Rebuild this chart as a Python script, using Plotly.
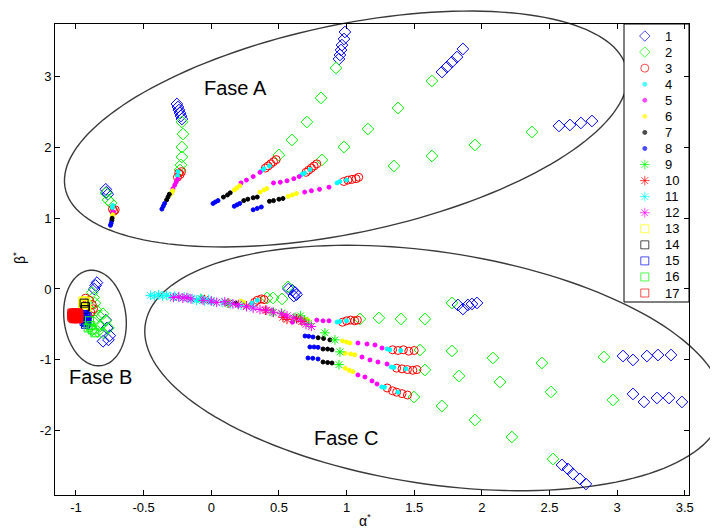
import numpy as np
import plotly.graph_objects as go

# ---------------- data ----------------
x_ticks = [-1, -0.5, 0, 0.5, 1, 1.5, 2, 2.5, 3, 3.5]
x_tick_labels = ["-1", "-0.5", "0", "0.5", "1", "1.5", "2", "2.5", "3", "3.5"]
y_ticks = [-2, -1, 0, 1, 2, 3]
y_tick_labels = ["-2", "-1", "0", "1", "2", "3"]
series_names = [str(i) for i in range(1, 18)]

# 1: blue diamonds
x1 = [-0.78, -0.775, -0.765,
      -0.254, -0.246, -0.239, -0.231, -0.224, -0.217,
      0.944, 0.951, 0.959, 0.966, 0.981, 0.988,
      1.705, 1.742, 1.779, 1.816, 1.860,
      2.570, 2.651, 2.732, 2.814,
      -0.845, -0.855, -0.865, -0.78, -0.77, -0.75, -0.80, -0.76,
      0.57, 0.60, 0.62, 0.63, 0.61,
      1.823, 1.86, 1.897, 1.927, 1.964,
      3.043, 3.117, 3.220, 3.302, 3.398,
      3.117, 3.198, 3.294, 3.383, 3.479,
      2.592, 2.636, 2.673, 2.725, 2.769]
y1 = [1.41, 1.37, 1.34,
      2.617, 2.574, 2.531, 2.489, 2.447, 2.404,
      3.253, 3.31, 3.38, 3.45, 3.536, 3.635,
      3.069, 3.140, 3.211, 3.281, 3.395,
      2.306, 2.320, 2.348, 2.376,
      0.09, 0.05, 0.0, -0.44, -0.55, -0.66, -0.74, -0.72,
      0.0, -0.02, -0.05, -0.08, -0.10,
      -0.226, -0.283, -0.226, -0.212, -0.198,
      -0.948, -1.004, -0.948, -0.934, -0.934,
      -1.485, -1.598, -1.542, -1.542, -1.598,
      -2.489, -2.546, -2.617, -2.687, -2.758]

# 2: green diamonds
x2 = [-0.778, -0.763, -0.741,
      -0.217, -0.209, -0.217, -0.217, -0.224, -0.231,
      0.922, 0.811, 0.707, 0.596, 0.500,
      0.818, 0.981, 1.158, 1.380, 1.631,
      1.350, 1.631, 1.949, 2.370,
      -0.88, -0.87, -0.86, -0.85, -0.83, -0.80, -0.78, -0.86, -0.82, -0.84, -0.80, -0.88, -0.90, -0.76,
      0.412, 0.456, 0.523, 0.567,
      1.099, 1.239, 1.402, 1.579, 1.779,
      1.542, 1.779, 2.082, 2.444, 2.902,
      1.579, 1.831, 2.134, 2.511, 2.969,
      1.498, 1.705, 1.949, 2.222, 2.526]
y2 = [1.358, 1.259, 1.216,
      2.362, 2.192, 2.008, 1.867, 1.754, 1.683,
      3.126, 2.702, 2.362, 2.108, 1.895,
      1.825, 2.008, 2.263, 2.560, 2.942,
      1.740, 1.881, 2.037, 2.221,
      -0.05, -0.12, -0.20, -0.30, -0.38, -0.35, -0.45, -0.45, -0.52, -0.60, -0.62, -0.58, -0.50, -0.55,
      -0.127, -0.127, -0.141, 0.03,
      -0.424, -0.41, -0.424, -0.424, -0.198,
      -0.863, -0.877, -0.976, -1.047, -0.962,
      -1.146, -1.231, -1.315, -1.457, -1.570,
      -1.528, -1.655, -1.853, -2.093, -2.405]

# 3: red circles
x3 = [-0.73, -0.72, -0.71,
      -0.25, -0.23, -0.22, -0.24,
      0.40, 0.42, 0.44, 0.46, 0.48,
      0.70, 0.72, 0.74, 0.76, 0.78,
      0.98, 1.01, 1.04, 1.07, 1.09,
      -0.93, -0.90, -0.88, -0.87, -0.89, -0.91,
      0.32, 0.34, 0.37, 0.39,
      0.97, 1.00, 1.03, 1.06, 1.08,
      1.34, 1.38, 1.42, 1.46, 1.50,
      1.37, 1.41, 1.45, 1.49, 1.52,
      1.30, 1.34, 1.37, 1.41, 1.45]
y3 = [1.13, 1.10, 1.12,
      1.58, 1.62, 1.66, 1.64,
      1.71, 1.74, 1.77, 1.80, 1.83,
      1.65, 1.68, 1.71, 1.74, 1.77,
      1.52, 1.54, 1.55, 1.56, 1.58,
      -0.13, -0.16, -0.22, -0.28, -0.33, -0.38,
      -0.19, -0.16, -0.14, -0.15,
      -0.47, -0.45, -0.44, -0.45, -0.44,
      -0.86, -0.87, -0.86, -0.88, -0.87,
      -1.12, -1.13, -1.14, -1.15, -1.14,
      -1.40, -1.44, -1.46, -1.48, -1.50]

# 4: cyan dots
x4 = [-0.73, -0.728, -0.245, -0.25, 0.37, 0.39, 0.43, 0.67, 0.69, 0.73, 0.93, 0.95, 1.0,
      0.30, 0.34, 0.93, 0.95, 1.0, 1.30, 1.32, 1.40, 1.33, 1.35, 1.44, 1.26, 1.28, 1.38,
      -0.10, 0.0, 0.2, -0.90]
y4 = [1.15, 1.18, 1.66, 1.60, 1.67, 1.70, 1.74, 1.62, 1.64, 1.69, 1.50, 1.52, 1.54,
      -0.20, -0.16, -0.467, -0.46, -0.45, -0.849, -0.86, -0.87, -1.103, -1.11, -1.13, -1.386, -1.39, -1.46,
      -0.16, -0.19, -0.23, -0.20]

# 5: magenta dots
x5 = [-0.727, -0.725, -0.283, -0.27, -0.26, -0.25,
      0.22, 0.26, 0.31, 0.36,
      0.46, 0.51, 0.56, 0.61, 0.65,
      0.69, 0.74, 0.80, 0.87,
      0.78, 0.826, 0.87,
      1.084, 1.151, 1.21, 1.262,
      1.114, 1.173, 1.232, 1.299,
      1.084, 1.136, 1.188, 1.225,
      0.0, 0.1, 0.2, 0.45, 0.55, 0.6]
y5 = [1.07, 1.09, 1.42, 1.47, 1.51, 1.55,
      1.50, 1.54, 1.59, 1.65,
      1.50, 1.51, 1.53, 1.56, 1.59,
      1.37, 1.39, 1.41, 1.44,
      -0.44, -0.45, -0.45,
      -0.764, -0.778, -0.792, -0.835,
      -0.962, -1.004, -1.033, -1.061,
      -1.216, -1.245, -1.30, -1.344,
      -0.17, -0.20, -0.23, -0.30, -0.38, -0.47]

# 6: yellow dots
x6 = [-0.73, -0.728, -0.30, -0.29, -0.285,
      0.17, 0.19, 0.21,
      0.36, 0.39, 0.41,
      0.57, 0.60, 0.63,
      0.70, 0.715,
      0.97, 1.00, 1.025,
      0.99, 1.03, 1.06,
      0.99, 1.02, 1.047,
      0.22, 0.24]
y6 = [1.03, 1.05, 1.34, 1.37, 1.39,
      1.40, 1.43, 1.46,
      1.37, 1.40, 1.42,
      1.31, 1.33, 1.35,
      -0.43, -0.44,
      -0.735, -0.75, -0.764,
      -0.91, -0.92, -0.93,
      -1.12, -1.15, -1.17,
      -0.17, -0.19]

# 7: black dots
x7 = [-0.735, -0.733, -0.33, -0.32, -0.31,
      0.09, 0.12, 0.14,
      0.24, 0.27, 0.31, 0.34,
      0.43, 0.46, 0.50, 0.53,
      0.79, 0.83, 0.877,
      0.826, 0.86, 0.892,
      0.826, 0.86, 0.892,
      0.18]
y7 = [0.97, 1.00, 1.26, 1.30, 1.34,
      1.30, 1.33, 1.36,
      1.25, 1.27, 1.29, 1.30,
      1.24, 1.25, 1.27, 1.28,
      -0.69, -0.70, -0.72,
      -0.849, -0.85, -0.86,
      -1.033, -1.04, -1.047,
      -0.20]

# 8: blue dots
x8 = [-0.745, -0.74, -0.365, -0.355, -0.345,
      0.013, 0.03, 0.05,
      0.17, 0.19, 0.21,
      0.31, 0.34, 0.37,
      0.693, 0.72, 0.752,
      0.729, 0.76, 0.789,
      0.715, 0.75, 0.789]
y8 = [0.90, 0.93, 1.13, 1.17, 1.21,
      1.21, 1.23, 1.25,
      1.17, 1.19, 1.21,
      1.12, 1.14, 1.16,
      -0.665, -0.67, -0.679,
      -0.82, -0.82, -0.825,
      -0.976, -0.98, -0.99]

# 9: green asterisks
x9 = [-0.07, 0.12, 0.45, 0.52, 0.62, 0.66, 0.69, 0.72, 0.84, 0.914, 0.951, 0.944]
y9 = [-0.14, -0.20, -0.33, -0.34, -0.40, -0.38, -0.44, -0.49, -0.62, -0.72, -0.89, -1.07]

# 10: red asterisks
x10 = [-0.05, 0.13, 0.26, 0.40, 0.53, 0.56, 0.63, 0.67]
y10 = [-0.15, -0.20, -0.24, -0.30, -0.40, -0.43, -0.42, -0.46]

# 11: cyan asterisks
x11 = [-0.45, -0.42, -0.39, -0.36, -0.33, -0.30, -0.27, -0.24, -0.20, -0.17,
       -0.14, -0.11, -0.08, -0.05, -0.02, 0.02, 0.08, 0.14, 0.22, 0.30]
y11 = [-0.09, -0.10, -0.08, -0.10, -0.09, -0.11, -0.10, -0.12, -0.11, -0.13,
       -0.14, -0.16, -0.13, -0.17, -0.15, -0.18, -0.19, -0.21, -0.23, -0.25]

# 12: magenta asterisks
x12 = [-0.28, -0.24, -0.21, -0.18, -0.15, -0.06, 0.0, 0.04, 0.10, 0.16, 0.20,
       0.26, 0.31, 0.36, 0.41, 0.46, 0.52, 0.56, 0.61, 0.66, 0.70, 0.74]
y12 = [-0.12, -0.11, -0.13, -0.12, -0.14, -0.16, -0.17, -0.19, -0.18, -0.21, -0.22,
       -0.25, -0.27, -0.29, -0.30, -0.33, -0.35, -0.38, -0.41, -0.44, -0.50, -0.53]

# 13-17: squares (Fase B)
x13 = [-0.95, -0.94, -0.93, -0.95, -0.94, -0.92, -0.95, -0.93, -0.92, -0.94, -0.93]
y13 = [-0.17, -0.18, -0.17, -0.22, -0.21, -0.22, -0.26, -0.27, -0.28, -0.30, -0.31]
x14 = [-0.94, -0.93, -0.935]
y14 = [-0.20, -0.25, -0.29]
x15 = [-0.95, -0.94, -0.93, -0.92, -0.95, -0.94, -0.93, -0.92, -0.94, -0.93, -0.92, -0.93]
y15 = [-0.36, -0.37, -0.38, -0.39, -0.41, -0.42, -0.43, -0.44, -0.46, -0.47, -0.48, -0.50]
x16 = [-0.90, -0.89, -0.88, -0.86, -0.91]
y16 = [-0.45, -0.52, -0.58, -0.62, -0.55]
x17 = [-1.03, -1.02, -1.01, -1.00, -0.99, -0.98,
       -1.03, -1.02, -1.01, -1.00, -0.99, -0.98,
       -1.03, -1.02, -1.01, -1.00, -0.99, -0.98,
       -1.03, -1.02, -1.01, -1.00, -0.99, -0.98,
       -1.02, -1.01, -1.00, -0.99, -0.98]
y17 = [-0.34, -0.34, -0.34, -0.34, -0.34, -0.34,
       -0.36, -0.36, -0.36, -0.36, -0.36, -0.36,
       -0.38, -0.38, -0.38, -0.38, -0.38, -0.38,
       -0.40, -0.40, -0.40, -0.40, -0.40, -0.40,
       -0.42, -0.42, -0.42, -0.42, -0.42]

series_x = [x1, x2, x3, x4, x5, x6, x7, x8, x9, x10, x11, x12, x13, x14, x15, x16, x17]
series_y = [y1, y2, y3, y4, y5, y6, y7, y8, y9, y10, y11, y12, y13, y14, y15, y16, y17]

# ---------------- styles ----------------
BLUE, GREEN, RED, CYAN, MAG, YEL, BLK = "#0000FF", "#00FF00", "#FF0000", "#00FFFF", "#FF00FF", "#FFFF00", "#000000"
colors = [BLUE, GREEN, RED, CYAN, MAG, YEL, BLK, BLUE, GREEN, RED, CYAN, MAG, YEL, BLK, BLUE, GREEN, RED]
symbols = ["diamond-open", "diamond-open", "circle-open"] + ["circle"] * 5 + ["asterisk-open"] * 4 + ["square-open"] * 5
sizes = [9, 9, 8] + [4] * 5 + [8] * 4 + [8] * 5

FONT = "Arial, Liberation Sans, sans-serif"
OFF = 8                      # page body margin of the browser
WIN_W, WIN_H = 718, 531
W, H = WIN_W - OFF, WIN_H - OFF
# plot box in window pixels: x 55..689, y 24..495
ML, MT = 55 - OFF, 24 - OFF
MR, MB = W - (689 - OFF), H - (495 - OFF)
X_RANGE = [-1.155, 3.531]
Y_RANGE = [-2.914, 3.748]

fig = go.Figure()
for i in range(17):
    fig.add_trace(go.Scatter(
        x=series_x[i], y=series_y[i], mode="markers", name=series_names[i],
        showlegend=False,
        marker=dict(symbol=symbols[i], size=sizes[i], color=colors[i],
                    line=dict(color=colors[i], width=1)),
        xaxis="x", yaxis="y", cliponaxis=False))

# ---------------- manual MATLAB-style legend ----------------
leg_idx = list(range(17))
fig.add_trace(go.Scatter(
    x=[0.32] * 17, y=leg_idx, mode="markers", showlegend=False, hoverinfo="skip",
    marker=dict(symbol=symbols, size=[min(s, 8) for s in sizes], color=colors,
                line=dict(color=colors, width=1)),
    xaxis="x2", yaxis="y2"))

pw = W - ML - MR
ph = H - MT - MB
def px2paper(px, py):
    """window pixel -> paper coordinates"""
    return (np.asarray(px) - OFF - ML) / pw, (H - MB - (np.asarray(py) - OFF)) / ph

lx0, ly0 = px2paper(624, 302)
lx1, ly1 = px2paper(689, 24)

shapes = []

def ellipse_path(cx, cy, a, b, deg, n=160):
    t = np.linspace(0, 2 * np.pi, n)
    p = np.radians(deg)
    px = cx + a * np.cos(t) * np.cos(p) - b * np.sin(t) * np.sin(p)
    py = cy + a * np.cos(t) * np.sin(p) + b * np.sin(t) * np.cos(p)
    xs, ys = px2paper(px, py)
    return "M " + " L ".join(f"{x:.5f},{y:.5f}" for x, y in zip(xs, ys)) + " Z"

for (cx, cy, a, b, deg) in [(346, 129, 287, 104, -12), (95, 318, 48, 31, 82.9), (434, 368, 292, 116, 8.6)]:
    shapes.append(dict(type="path", xref="paper", yref="paper", path=ellipse_path(cx, cy, a, b, deg),
                       line=dict(color="#3a3a3a", width=1.4), layer="below"))

shapes.append(dict(type="rect", xref="paper", yref="paper", x0=float(lx0), x1=float(lx1), y0=float(ly0), y1=float(ly1),
                   line=dict(color="black", width=1), fillcolor="white", layer="below"))

annotations = []
for i, nm in enumerate(series_names):
    annotations.append(dict(x=0.6, y=i, xref="x2", yref="y2", text=nm, showarrow=False,
                            xanchor="left", yanchor="middle", font=dict(family=FONT, size=13, color="black")))

for txt, (px, py) in [("Fase A", (235, 88)), ("Fase B", (100, 377)), ("Fase C", (346, 438))]:
    ax, ay = px2paper(px, py)
    annotations.append(dict(x=float(ax), y=float(ay), xref="paper", yref="paper", text=txt, showarrow=False,
                            xanchor="center", yanchor="middle", font=dict(family=FONT, size=20, color="black")))

axx, axy = px2paper(365, 531)
annotations.append(dict(x=float(axx), y=float(axy), xref="paper", yref="paper", text="α<sup>*</sup>",
                        showarrow=False, xanchor="center", yanchor="bottom",
                        font=dict(family=FONT, size=14, color="black")))
ayx, ayy = px2paper(8, 258)
annotations.append(dict(x=float(ayx), y=float(ayy), xref="paper", yref="paper", text="β<sup>*</sup>",
                        showarrow=False, textangle=-90, xanchor="left", yanchor="middle",
                        font=dict(family=FONT, size=14, color="black")))

axis_common = dict(showgrid=False, zeroline=False, showline=True, linecolor="black", linewidth=1,
                   ticks="inside", ticklen=5, tickwidth=1, tickcolor="black", mirror="ticks",
                   tickfont=dict(family=FONT, size=13, color="black"))

fig.update_layout(
    width=W, height=H,
    margin=dict(l=ML, r=MR, t=MT, b=MB, pad=0),
    paper_bgcolor="white", plot_bgcolor="rgba(0,0,0,0)",
    showlegend=False,
    xaxis=dict(range=X_RANGE, tickvals=x_ticks, ticktext=x_tick_labels, domain=[0, 1], **axis_common),
    yaxis=dict(range=Y_RANGE, tickvals=y_ticks, ticktext=y_tick_labels, domain=[0, 1], **axis_common),
    xaxis2=dict(domain=[float(lx0), float(lx1)], range=[0, 1], visible=False, anchor="y2", fixedrange=True),
    yaxis2=dict(domain=[float(ly0), float(ly1)], range=[16.56, -0.75], visible=False, anchor="x2", fixedrange=True),
    shapes=shapes, annotations=annotations,
)

fig.write_html("out.html")
